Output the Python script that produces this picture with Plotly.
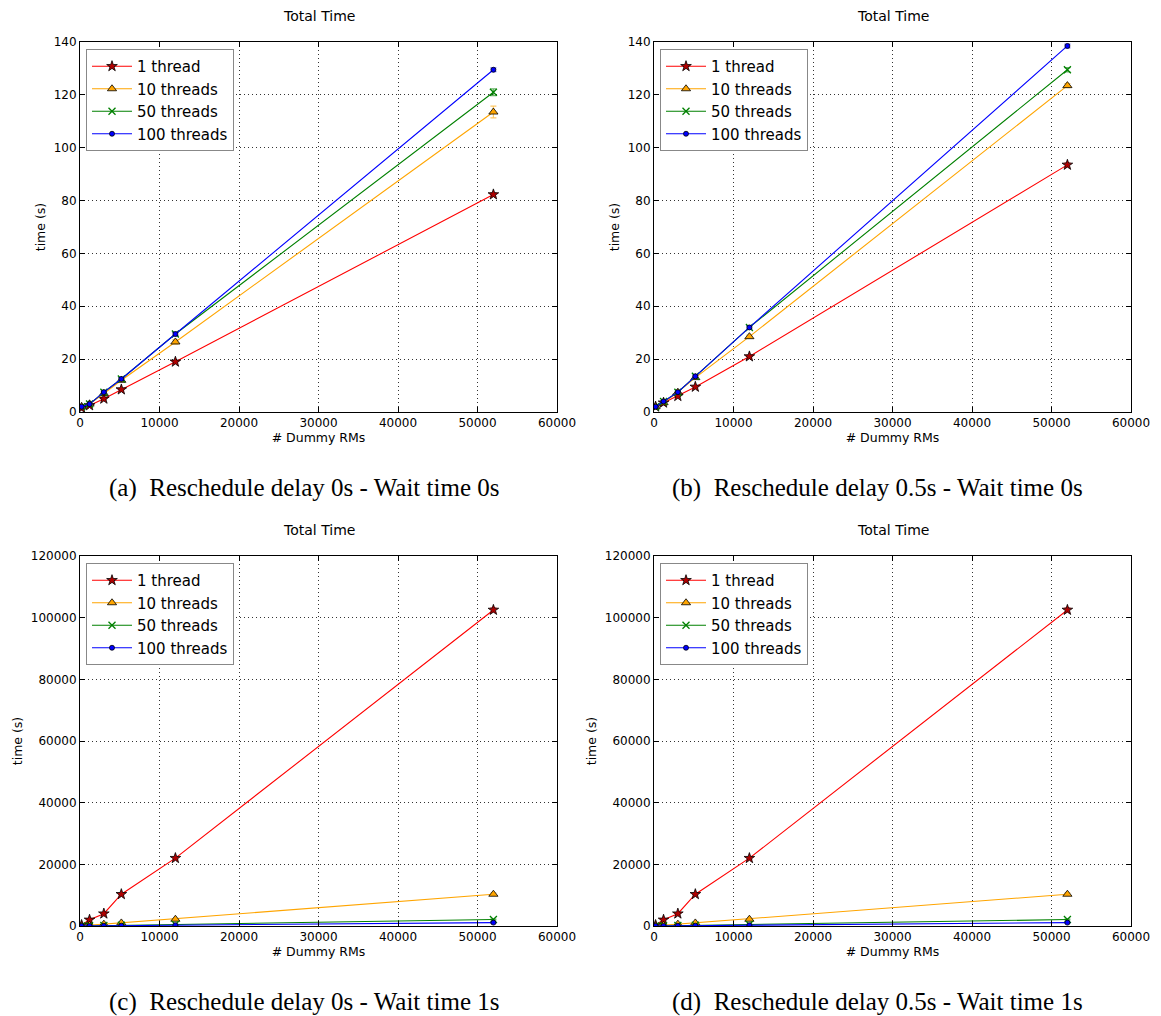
import plotly.graph_objects as go

x_rms = [200, 1200, 3000, 5200, 12000, 52000]
series_names = ["1 thread", "10 threads", "50 threads", "100 threads"]

# Panel (a): delay 0s, wait 0s
a_vals = {
    "1 thread":    [1.5, 2.5, 5.0, 8.5, 19.0, 82.3],
    "10 threads":  [2.0, 3.0, 7.0, 12.0, 26.5, 113.5],
    "50 threads":  [2.0, 3.0, 7.5, 12.5, 29.5, 121.0],
    "100 threads": [2.0, 3.0, 7.5, 12.5, 29.5, 129.5],
}
a_err = {
    "1 thread":    [0.2, 0.2, 0.3, 0.4, 0.4, 0.7],
    "10 threads":  [0.2, 0.3, 0.4, 0.5, 0.8, 2.2],
    "50 threads":  [0.2, 0.3, 0.4, 0.5, 0.6, 1.3],
    "100 threads": [0.2, 0.3, 0.4, 0.5, 0.6, 0.7],
}
# Panel (b): delay 0.5s, wait 0s
b_vals = {
    "1 thread":    [2.0, 3.5, 6.0, 9.5, 21.0, 93.5],
    "10 threads":  [2.0, 3.5, 7.5, 13.0, 28.5, 123.5],
    "50 threads":  [2.0, 4.0, 7.5, 13.5, 32.0, 129.5],
    "100 threads": [2.0, 4.0, 7.5, 13.5, 32.0, 138.5],
}
b_err = {
    "1 thread":    [0.2, 0.2, 0.3, 0.4, 0.5, 0.9],
    "10 threads":  [0.2, 0.3, 0.4, 0.5, 0.6, 0.8],
    "50 threads":  [0.2, 0.3, 0.4, 0.5, 0.6, 0.8],
    "100 threads": [0.2, 0.3, 0.4, 0.5, 0.6, 0.7],
}
# Panel (c): delay 0s, wait 1s
c_vals = {
    "1 thread":    [300, 2000, 4000, 10300, 22000, 102500],
    "10 threads":  [50, 250, 600, 1000, 2200, 10300],
    "50 threads":  [20, 60, 150, 250, 500, 2100],
    "100 threads": [10, 30, 80, 120, 260, 1100],
}
c_err = {
    "1 thread":    [50, 100, 150, 200, 300, 800],
    "10 threads":  [10, 30, 50, 80, 150, 400],
    "50 threads":  [5, 10, 20, 30, 50, 150],
    "100 threads": [5, 10, 20, 30, 50, 100],
}
# Panel (d): delay 0.5s, wait 1s
d_vals = {
    "1 thread":    [300, 2000, 4000, 10300, 22000, 102500],
    "10 threads":  [50, 250, 600, 1000, 2200, 10300],
    "50 threads":  [20, 60, 150, 250, 500, 2100],
    "100 threads": [10, 30, 80, 120, 260, 1100],
}
d_err = c_err

captions = [
    "(a)  Reschedule delay 0s - Wait time 0s",
    "(b)  Reschedule delay 0.5s - Wait time 0s",
    "(c)  Reschedule delay 0s - Wait time 1s",
    "(d)  Reschedule delay 0.5s - Wait time 1s",
]

styles = {
    "1 thread":    dict(color="#ff0000", err="rgba(255,0,0,0.5)", symbol="star", mcolor="#b00000", size=8),
    "10 threads":  dict(color="#ffa500", err="rgba(255,165,0,0.6)", symbol="triangle-up", mcolor="#ffa500", size=8),
    "50 threads":  dict(color="#008000", err="rgba(0,128,0,0.6)", symbol="x-thin-open", mcolor="#008000", size=7),
    "100 threads": dict(color="#0000ff", err="rgba(0,0,255,0.6)", symbol="circle", mcolor="#0000ff", size=5),
}

W, H = 1161, 1016
panels = [
    (a_vals, a_err, 80, 557, 42, 412, [0, 140], 20),
    (b_vals, b_err, 654, 1131, 42, 412, [0, 140], 20),
    (c_vals, c_err, 80, 557, 556, 926, [0, 120000], 20000),
    (d_vals, d_err, 654, 1131, 556, 926, [0, 120000], 20000),
]

fig = go.Figure()
layout = dict(
    width=W, height=H, margin=dict(l=0, r=0, t=0, b=0),
    paper_bgcolor="white", plot_bgcolor="white",
    font=dict(family="DejaVu Sans", color="black", size=12),
    showlegend=True,
)
annotations = []
for i, (vals, errs, x0, x1, y0, y1, yr, ydt) in enumerate(panels):
    k = "" if i == 0 else str(i + 1)
    leg = "legend" if i == 0 else "legend" + str(i + 1)
    for name in series_names:
        s = styles[name]
        is_x = s["symbol"].startswith("x")
        fig.add_trace(go.Scatter(
            x=x_rms, y=vals[name], name=name, mode="lines+markers",
            xaxis="x" + k, yaxis="y" + k, legend=leg,
            line=dict(color=s["color"], width=1.1),
            marker=dict(symbol=s["symbol"], size=s["size"], color=s["mcolor"],
                        line=dict(color=s["color"] if is_x else "black", width=1.3 if is_x else 0.8)),
            error_y=dict(type="data", array=errs[name], color=s["err"], thickness=1.2, width=3),
        ))
    dx = [x0 / W, x1 / W]
    dy = [1 - y1 / H, 1 - y0 / H]
    axcommon = dict(showline=True, linecolor="black", linewidth=1, mirror="ticks",
                    ticks="inside", ticklen=5, tickcolor="black", automargin=False,
                    showgrid=True, gridcolor="#333333", griddash="1px,3px", gridwidth=1,
                    zeroline=False, tickformat="d",
                    tickfont=dict(size=12, family="DejaVu Sans"))
    layout["xaxis" + k] = dict(domain=dx, range=[0, 60000], dtick=10000, tick0=0,
                               anchor="y" + k, title=dict(text="# Dummy RMs", font=dict(size=12.5), standoff=3),
                               **axcommon)
    layout["yaxis" + k] = dict(domain=dy, range=yr, dtick=ydt, tick0=0,
                               anchor="x" + k, title=dict(text="time (s)", font=dict(size=12.5), standoff=5),
                               **axcommon)
    layout[leg] = dict(x=(x0 + 6) / W, y=1 - (y0 + 7) / H, xanchor="left", yanchor="top",
                       xref="paper", yref="paper",
                       bgcolor="white", bordercolor="#888888", borderwidth=1,
                       font=dict(size=15, family="DejaVu Sans"), tracegroupgap=0, itemwidth=40)
    annotations.append(dict(text="Total Time", x=(x0 + x1) / 2 / W, y=1 - (y0 - 26) / H,
                            xref="paper", yref="paper", showarrow=False, xanchor="center",
                            font=dict(size=14, family="DejaVu Sans"), yanchor="middle"))
    annotations.append(dict(text=captions[i], x=(x0 + x1 - 30) / 2 / W, y=1 - (y1 + 76) / H,
                            xref="paper", yref="paper", showarrow=False, xanchor="center",
                            font=dict(size=25, family="Liberation Serif"), yanchor="middle"))
layout["annotations"] = annotations
fig.update_layout(**layout)
fig.write_html("out.html")
